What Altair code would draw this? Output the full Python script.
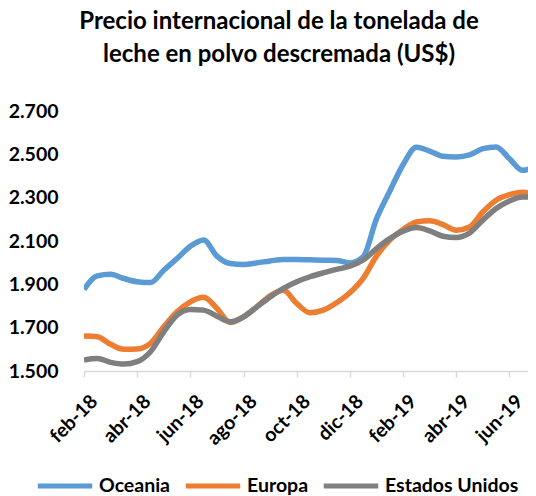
import altair as alt
import pandas as pd

# Month tick labels (every two months, starting feb-18)
tick_labels = ["feb-18", "abr-18", "jun-18", "ago-18", "oct-18",
               "dic-18", "feb-19", "abr-19", "jun-19"]
tick_pos = [0, 2, 4, 6, 8, 10, 12, 14, 16]

# Semi-monthly readings, feb-18 .. jul-19 (step = half month)
oceania = [1876, 1939, 1946, 1927, 1912, 1908, 1965, 2019, 2076, 2105,
           2030, 1996, 1992, 1999, 2008, 2015, 2015, 2013, 2011, 2010,
           1999, 2027, 2202, 2330, 2452, 2533, 2515, 2491, 2488, 2497,
           2526, 2534, 2480, 2426, 2445]
europa = [1661, 1658, 1623, 1600, 1601, 1628, 1704, 1773, 1819, 1840,
          1789, 1724, 1750, 1796, 1847, 1873, 1812, 1769, 1781, 1815,
          1861, 1927, 2030, 2104, 2153, 2188, 2193, 2176, 2150, 2165,
          2234, 2288, 2314, 2325, 2316]
eeuu = [1551, 1558, 1540, 1532, 1543, 1589, 1681, 1758, 1784, 1781,
        1753, 1727, 1750, 1796, 1842, 1881, 1912, 1935, 1953, 1969,
        1984, 2012, 2065, 2111, 2145, 2162, 2147, 2122, 2116, 2137,
        2196, 2250, 2285, 2303, 2303]

series_names = ["Oceania", "Europa", "Estados Unidos"]
series_colors = ["#5B9BD5", "#ED7D31", "#7F7F7F"]

rows = []
for order, (name, vals) in enumerate(zip(series_names, [oceania, europa, eeuu])):
    for k, v in enumerate(vals):
        rows.append({"t": k * 0.5, "valor": v, "serie": name, "orden": order})
df = pd.DataFrame(rows)

label_array = "[" + ",".join("'%s'" % s for s in tick_labels) + "]"

FONT = "Lato"

chart = alt.Chart(df).mark_line(
    strokeWidth=5.5, interpolate="monotone", clip=True
).encode(
    x=alt.X("t:Q",
            scale=alt.Scale(domain=[0, 16.7], nice=False, zero=False),
            axis=alt.Axis(values=tick_pos, title=None, grid=False,
                          labelExpr=label_array + "[round(datum.value/2)]",
                          labelAngle=315, labelAlign="right", labelBaseline="middle",
                          labelOffset=10, labelPadding=21, labelOverlap=False,
                          labelFont=FONT, labelFontSize=19.5, labelFontWeight="bold",
                          labelColor="black",
                          domainColor="#D9D9D9", domainWidth=1.5,
                          tickColor="#D9D9D9", tickWidth=1.5, tickSize=6)),
    y=alt.Y("valor:Q",
            scale=alt.Scale(domain=[1500, 2700], nice=False, zero=False),
            axis=alt.Axis(values=[1500, 1700, 1900, 2100, 2300, 2500, 2700],
                          title=None, grid=False, domain=False, ticks=False, tickSize=0,
                          labelExpr="replace(format(datum.value, ','), ',', '.')",
                          labelPadding=26, labelOverlap=False,
                          labelFont=FONT, labelFontSize=19.5, labelFontWeight="bold",
                          labelColor="black")),
    color=alt.Color("serie:N",
                    scale=alt.Scale(domain=series_names, range=series_colors),
                    legend=alt.Legend(orient="none", direction="horizontal",
                                      legendX=-49, legendY=345, title=None,
                                      symbolType="stroke", symbolSize=2970,
                                      symbolStrokeWidth=5, labelOffset=4,
                                      columnPadding=4,
                                      labelFont=FONT, labelFontSize=19.5,
                                      labelFontWeight="bold", labelColor="black")),
    order=alt.Order("orden:Q"),
).properties(
    width=444,
    height=260,
    padding={"left": 76, "top": 103, "right": 0, "bottom": 125},
    autosize=alt.AutoSizeParams(type="none"),
    title=alt.TitleParams(
        text=["Precio internacional de la tonelada de",
              "leche en polvo descremada (US$)"],
        font=FONT, fontSize=24, fontWeight="bold", color="black",
        anchor="middle", dx=-27, dy=-20, lineHeight=33, offset=14),
).configure_view(stroke=None)

chart.save("out.html", embed_options={"renderer": "svg", "actions": False})
